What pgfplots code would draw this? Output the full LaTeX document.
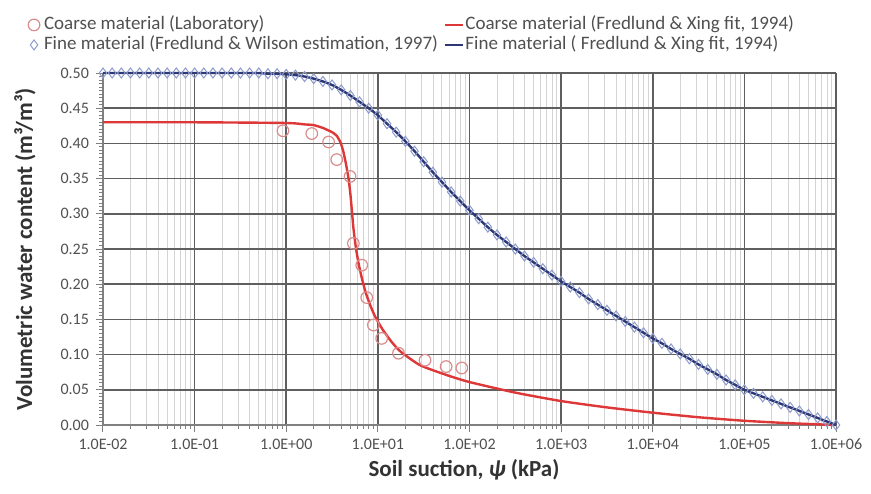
\documentclass[border=0pt]{standalone}
\usepackage{pgfplots}
\pgfplotsset{compat=1.18}
\usepackage{pgfplotstable}
\usepackage{fontspec}
\setmainfont{Carlito}

\definecolor{fitred}{RGB}{222,55,55}
\definecolor{fitblue}{RGB}{45,55,115}
\definecolor{labred}{RGB}{218,140,140}
\definecolor{estblue}{RGB}{140,155,205}
\definecolor{majgrid}{RGB}{95,95,95}
\definecolor{mingrid}{RGB}{212,212,212}
\definecolor{txt}{RGB}{80,80,80}

\pgfplotsset{
  marklegend/.style={legend image code/.code={\draw[##1] plot coordinates {(0pt,0pt)}; \path[draw=none,fill=none,mark=none] (-2.7pt,0pt) (4.5pt,0pt);}},
  linelegend/.style={legend image code/.code={\draw[##1] (0pt,0pt) -- (9pt,0pt);}},
}

\pgfplotstableread{
x y
0.92 0.418
1.9 0.414
2.9 0.402
3.56 0.377
4.97 0.353
5.4 0.258
6.67 0.227
7.56 0.181
8.93 0.142
11.0 0.123
16.8 0.102
32.7 0.092
55.6 0.083
82.4 0.081
}\coarselab

\pgfplotstableread{
x y
0.01 0.430
0.1 0.430
1 0.429
1.585 0.427
1.995 0.426
2.512 0.422
2.818 0.419
3.162 0.416
3.548 0.411
3.890 0.402
4.169 0.390
4.467 0.372
4.786 0.350
5.012 0.328
5.200 0.305
5.408 0.280
5.754 0.252
6.166 0.229
6.761 0.206
7.413 0.187
8.318 0.169
9.333 0.154
11.22 0.136
14.13 0.118
17.78 0.104
28.84 0.085
56.23 0.071
100 0.061
316.2 0.046
1000 0.034
3162 0.025
1e4 0.0175
31623 0.011
1e5 0.006
316228 0.0025
1e6 0.000
}\coarsefit

\pgfplotstableread{
x y
1e-2 0.500
1.259e-2 0.500
1.585e-2 0.500
1.995e-2 0.500
2.512e-2 0.500
3.162e-2 0.500
3.981e-2 0.500
5.012e-2 0.500
6.310e-2 0.500
7.943e-2 0.500
1e-1 0.500
1.259e-1 0.500
1.585e-1 0.500
1.995e-1 0.500
2.512e-1 0.500
3.162e-1 0.500
3.981e-1 0.500
5.012e-1 0.500
6.310e-1 0.499
7.943e-1 0.499
1 0.498
1.259 0.497
1.585 0.495
1.995 0.492
2.512 0.488
3.162 0.483
3.981 0.476
5.012 0.468
6.310 0.459
7.943 0.450
1e1 0.440
1.259e1 0.428
1.585e1 0.416
1.995e1 0.403
2.512e1 0.389
3.162e1 0.374
3.981e1 0.359
5.012e1 0.345
6.310e1 0.331
7.943e1 0.318
1e2 0.305
1.259e2 0.293
1.585e2 0.281
1.995e2 0.270
2.512e2 0.260
3.162e2 0.250
3.981e2 0.240
5.012e2 0.231
6.310e2 0.222
7.943e2 0.213
1e3 0.204
1.259e3 0.196
1.585e3 0.188
1.995e3 0.179
2.512e3 0.171
3.162e3 0.163
3.981e3 0.155
5.012e3 0.147
6.310e3 0.139
7.943e3 0.131
1e4 0.123
1.259e4 0.116
1.585e4 0.108
1.995e4 0.101
2.512e4 0.094
3.162e4 0.086
3.981e4 0.079
5.012e4 0.072
6.310e4 0.064
7.943e4 0.057
1e5 0.050
1.259e5 0.045
1.585e5 0.040
1.995e5 0.035
2.512e5 0.030
3.162e5 0.025
3.981e5 0.020
5.012e5 0.015
6.310e5 0.010
7.943e5 0.005
1e6 0.000
}\finedata

\begin{document}
\begin{tikzpicture}
\useasboundingbox (-51.5pt,-34pt) rectangle (384pt,212.5pt);
\begin{axis}[
  at={(0pt,0pt)}, anchor=south west,
  scale only axis, width=366.5pt, height=176pt,
  xmode=log, xmin=1e-2, xmax=1e6, ymin=0, ymax=0.5,
  xtick={1e-2,1e-1,1,1e1,1e2,1e3,1e4,1e5,1e6},
  xticklabels={1.0E-02,1.0E-01,1.0E+00,1.0E+01,1.0E+02,1.0E+03,1.0E+04,1.0E+05,1.0E+06},
  ytick={0,0.05,0.1,0.15,0.2,0.25,0.3,0.35,0.4,0.45,0.5},
  yticklabels={0.00,0.05,0.10,0.15,0.20,0.25,0.30,0.35,0.40,0.45,0.50},
  minor y tick num=9,
  xmajorgrids, ymajorgrids, xminorgrids,
  major grid style={majgrid, line width=0.75pt},
  minor grid style={mingrid, line width=0.5pt},
  axis lines*=left,
  axis line style={-, draw=black!50, line width=0.7pt},
  tick style={black!50, line width=0.5pt},
  tick align=outside,
  major tick length=3.5pt, minor tick length=1.8pt,
  tick label style={font=\fontsize{8}{9}\selectfont, text=txt},
  xlabel={Soil suction, {\itshape ψ} (kPa)},
  ylabel={Volumetric water content (m³/m³)},
  label style={font=\fontsize{11.5}{13}\selectfont\bfseries, text=black!80},
  xlabel style={at={(axis description cs:0.4925,-0.128)}, anchor=center},
  ylabel style={at={(axis description cs:-0.1064,0.5)}, anchor=center, rotate=0},
  clip=false,
  legend columns=2,
  legend cell align=left,
  legend style={at={(axis description cs:-0.102,1.165)}, anchor=north west,
    draw=none, fill=none, inner sep=0pt, outer sep=0pt,
    font=\fontsize{9.5}{11}\selectfont, text=txt,
    nodes={inner sep=0.5pt, text height=7pt, text depth=2pt},
    /tikz/every even column/.append style={column sep=2.5pt}},
]
\addplot[only marks, mark=o, mark size=2.9pt, mark options={draw=labred, line width=0.6pt}, marklegend]
  table[x=x,y=y] {\coarselab};
\addlegendentry{Coarse material (Laboratory)}
\addplot[fitred, line width=1.2pt, smooth, tension=0.35, mark=none, linelegend]
  table[x=x,y=y] {\coarsefit};
\addlegendentry{Coarse material (Fredlund \& Xing fit, 1994)}
\addplot[only marks, mark=diamond, mark size=2.5pt, mark options={draw=estblue, line width=0.5pt}, marklegend]
  table[x=x,y=y] {\finedata};
\addlegendentry{Fine material (Fredlund \& Wilson estimation, 1997)}
\addplot[fitblue, line width=1.2pt, smooth, tension=0.35, mark=none, linelegend]
  table[x=x,y=y] {\finedata};
\addlegendentry{Fine material ( Fredlund \& Xing fit, 1994)}
\end{axis}
\end{tikzpicture}
\end{document}
